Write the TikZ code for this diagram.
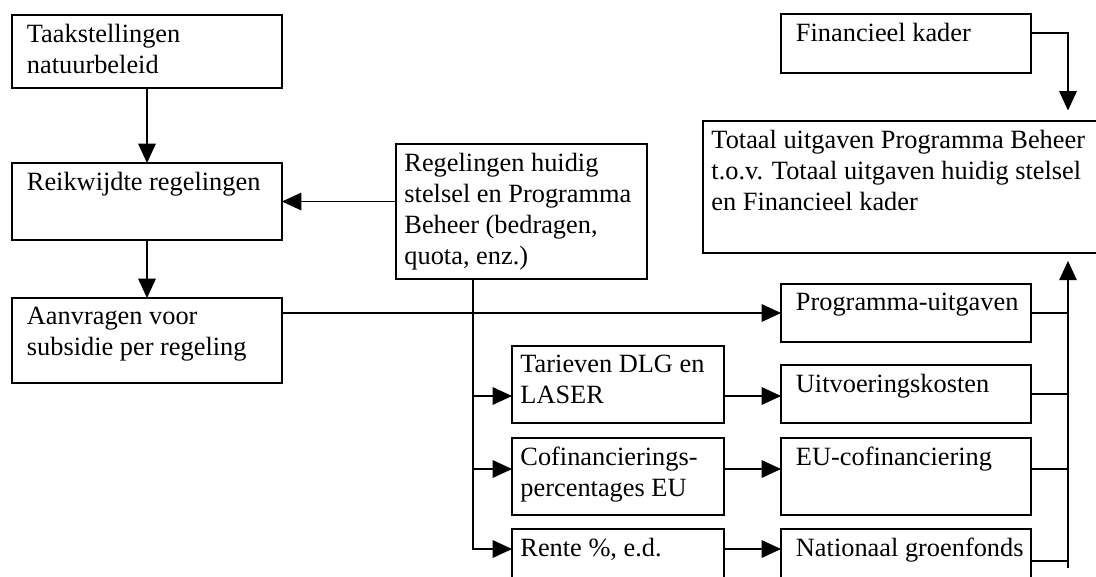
\documentclass[tikz,border=0pt]{standalone}
\usepackage{fontspec}
\setmainfont{Liberation Serif}
\usetikzlibrary{arrows.meta}

\begin{document}
\begin{tikzpicture}[x=0.02cm, y=0.02cm]
\tikzstyle{every node}+=[inner sep=0pt, outer sep=0pt]
\tikzstyle{box}=[draw, line width=0.7pt]
\tikzstyle{txt}=[anchor=north west, align=left, inner xsep=8.5pt, inner ysep=5.3pt, font=\fontsize{15pt}{17.6pt}\selectfont]
\tikzstyle{txtn}=[txt, inner xsep=4.8pt]
\tikzstyle{arr}=[line width=0.7pt, -{Triangle[length=11pt, width=10pt]}]
\useasboundingbox (0,0) rectangle (1096,-576);
\clip (0,0) rectangle (1096,-576);
% left column
\node[box, minimum width=5.4cm, minimum height=1.46cm, label={[txt]north west:Taakstellingen\\natuurbeleid}] (taak) at (147,-51.5) {};
\node[box, minimum width=5.4cm, minimum height=1.54cm, label={[txt]north west:Reikwijdte regelingen}] (reik) at (147,-201.5) {};
\node[box, minimum width=5.4cm, minimum height=1.7cm, label={[txt]north west:Aanvragen voor\\subsidie per regeling}] (aan) at (147,-340.5) {};
\node[box, minimum width=5.02cm, minimum height=2.7cm, label={[txtn]north west:Regelingen huidig\\stelsel en Programma\\Beheer (bedragen,\\quota, enz.)}] (regel) at (521.5,-211.5) {};
% middle column
\node[box, minimum width=4.24cm, minimum height=1.54cm, label={[txtn]north west:Tarieven DLG en\\LASER}] (tar) at (618,-384.5) {};
\node[box, minimum width=4.24cm, minimum height=1.54cm, label={[txtn]north west:Cofinancierings-\\percentages EU}] (cof) at (618,-476.5) {};
\node[box, minimum width=4.24cm, minimum height=1.54cm, label={[txtn]north west:Rente \%, e.d.}] (rente) at (618,-567.5) {};
% right column
\node[box, minimum width=5.0cm, minimum height=1.18cm, label={[txt]north west:Financieel kader}] (fin) at (906,-43.5) {};
\node[box, minimum width=8.14cm, minimum height=2.64cm, label={[txtn]north west:Totaal uitgaven Programma Beheer\\t.o.v. Totaal uitgaven huidig stelsel\\en Financieel kader}] (tot) at (906.5,-187) {};
\node[box, minimum width=5.0cm, minimum height=1.16cm, label={[txt]north west:Programma-uitgaven}] (prog) at (906,-313) {};
\node[box, minimum width=5.0cm, minimum height=1.16cm, label={[txt]north west:Uitvoeringskosten}] (uitv) at (906,-394) {};
\node[box, minimum width=5.0cm, minimum height=1.54cm, label={[txt]north west:EU-cofinanciering}] (eu) at (906,-476.5) {};
\node[box, minimum width=5.0cm, minimum height=1.54cm, label={[txt]north west:Nationaal groenfonds}] (nat) at (906,-567.5) {};
% bus points
\coordinate (lb1) at (473,-396);
\coordinate (lb2) at (473,-469);
\coordinate (lb3) at (473,-549);
\coordinate (rb) at (1068,-568);
\coordinate (rn) at (1068,-561);
\coordinate (fk) at (1068,-33);
% connectors
\draw[arr] (taak) -- (reik);
\draw[arr] (reik) -- (aan);
\draw[arr] (regel.west |- reik.east) -- (reik.east);
\draw[arr] (aan.east |- prog.west) -- (prog.west);
\draw[arr] (regel.south -| lb3) -- (lb3) -- (lb3 -| rente.west);
\draw[arr] (lb1) -- (lb1 -| tar.west);
\draw[arr] (lb2) -- (lb2 -| cof.west);
\draw[arr] (tar.east |- lb1) -- (uitv.west |- lb1);
\draw[arr] (cof.east |- lb2) -- (eu.west |- lb2);
\draw[arr] (rente.east |- lb3) -- (nat.west |- lb3);
\draw[line width=0.7pt] (prog.east) -- (prog.east -| rb);
\draw[line width=0.7pt] (uitv.east) -- (uitv.east -| rb);
\draw[line width=0.7pt] (eu.east |- lb2) -- (lb2 -| rb);
\draw[line width=0.7pt] (nat.east |- rn) -- (rn);
\draw[arr, shorten >=4.5pt] (rb) -- (rb |- tot.south);
\draw[arr, shorten >=6pt] (fin.east |- fk) -- (fk) -- (fk |- tot.north);
\end{tikzpicture}
\end{document}
